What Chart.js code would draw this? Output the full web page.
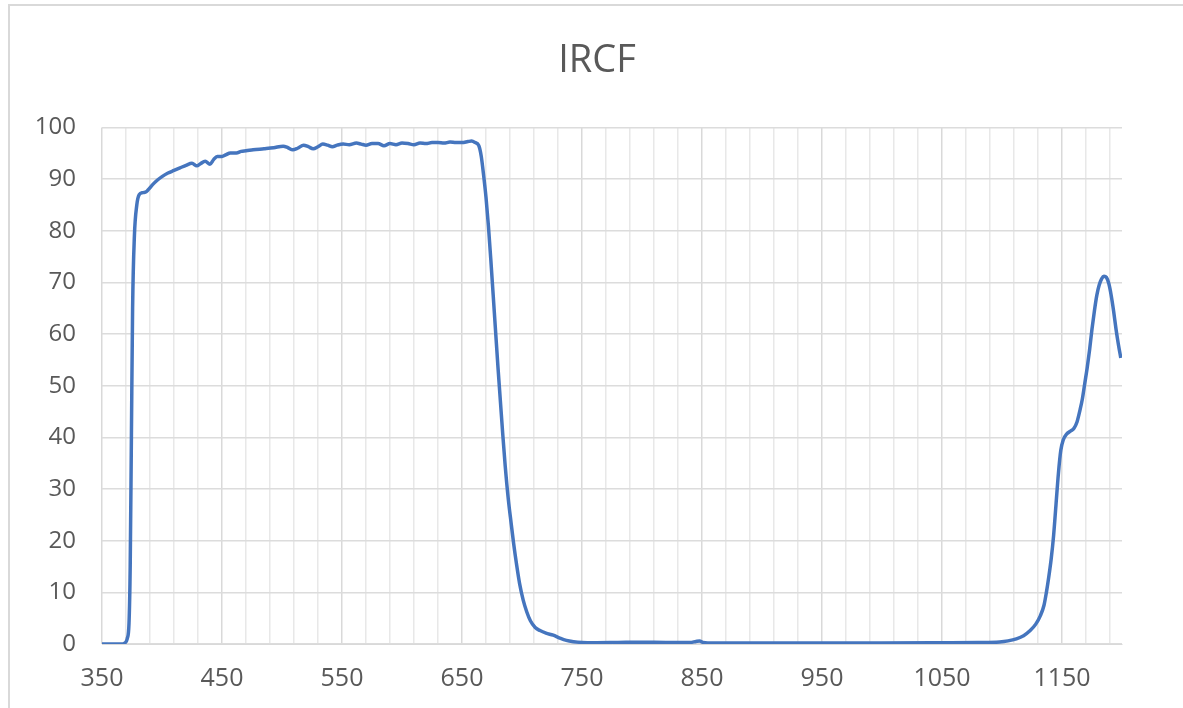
<!DOCTYPE html>
<html>
<head>
<meta charset="utf-8">
<script src="https://cdn.jsdelivr.net/npm/chart.js@4/dist/chart.umd.min.js"></script>
<style>
  html, body { margin: 0; padding: 0; background: #fff; }
  #wrap { position: relative; width: 1183px; height: 708px; }
</style>
</head>
<body>
<div id="wrap"><canvas id="ircfChart"></canvas></div>
<script>
// 波長 (nm) と透過率 (%) - 画像から読み取った値
const wavelength = [
  350, 360, 366, 369, 371, 372.5, 373.5, 374.5, 375.5, 377, 379, 381, 384, 387, 389, 392, 396,
  400, 405, 410, 415, 420, 425, 429, 432, 436, 440, 443, 446, 450, 453, 457, 462, 466, 470, 476,
  485, 493, 501, 505, 509, 513, 518, 522, 526, 530, 534, 538, 542, 546, 551, 556, 562, 566, 570,
  575, 580, 585, 590, 595, 600, 605, 610, 615, 620, 625, 630, 635, 640, 645, 650, 655, 658, 661,
  664, 666, 668, 670, 672, 674, 676, 678, 680, 682, 684, 686, 688.6, 691, 693, 695.6, 698, 701,
  704, 707, 711, 715, 720, 726, 731, 737, 743, 750, 760, 780, 800, 820, 840, 845, 848, 851, 860,
  900, 950, 1000, 1050, 1080, 1098, 1105, 1112, 1118, 1123, 1128, 1132, 1135, 1137, 1139, 1141,
  1143, 1145, 1147, 1149, 1151, 1154, 1157, 1160, 1162.5, 1165, 1167, 1169, 1171, 1173, 1175,
  1177, 1179, 1181, 1183, 1185, 1187, 1189, 1191, 1193, 1195, 1197, 1199
];
const transmittance = [
  0, 0, 0, 0.2, 1, 4, 15, 40, 65, 79, 85, 87, 87.4, 87.6, 88.1, 88.9, 89.8,
  90.5, 91.2, 91.7, 92.2, 92.7, 93.1, 92.6, 93.0, 93.5, 92.9, 93.8, 94.4, 94.4, 94.7, 95.1, 95.1, 95.4, 95.5, 95.7,
  95.9, 96.1, 96.4, 96.1, 95.7, 96.0, 96.6, 96.3, 95.9, 96.3, 96.8, 96.6, 96.3, 96.6, 96.8, 96.7, 97.0, 96.8, 96.6,
  96.9, 96.9, 96.5, 96.9, 96.7, 97.0, 96.9, 96.7, 97.0, 96.9, 97.1, 97.1, 97.0, 97.2, 97.1, 97.1, 97.3, 97.4, 97.1,
  96.5, 94.5, 90.8, 86.5, 81, 74.5, 67.5, 60.5, 53.5, 47, 40.5, 34.5, 28, 23.3, 19.5, 15.2, 11.7, 8.5,
  6.2, 4.5, 3.2, 2.6, 2.1, 1.7, 1.2, 0.7, 0.45, 0.3, 0.25, 0.3, 0.35, 0.3, 0.3, 0.5, 0.6, 0.3, 0.2,
  0.2, 0.2, 0.2, 0.25, 0.3, 0.4, 0.6, 1.0, 1.6, 2.5, 3.8, 5.5, 7.5, 10, 13, 16.5,
  21, 27, 33, 37.5, 39.5, 40.7, 41.2, 41.8, 43, 45.3, 47.5, 50.5, 53.5, 57, 61,
  64.5, 67.5, 69.5, 70.7, 71.2, 71.0, 69.8, 67.5, 64.5, 61, 58, 55.4
];
const xTickLabels = [350, 450, 550, 650, 750, 850, 950, 1050, 1150];
const yTickLabels = [0, 10, 20, 30, 40, 50, 60, 70, 80, 90, 100];

const points = wavelength.map((w, i) => ({ x: w, y: transmittance[i] }));

// 外枠 (Excelのグラフエリア枠線)
const frameBorder = {
  id: 'frameBorder',
  beforeDraw(chart) {
    const ctx = chart.ctx;
    ctx.save();
    ctx.strokeStyle = '#d9d9d9';
    ctx.lineWidth = 2;
    ctx.beginPath();
    ctx.moveTo(9, chart.height);
    ctx.lineTo(9, 5);
    ctx.lineTo(chart.width, 5);
    ctx.stroke();
    ctx.restore();
  }
};

// タイトルを少し右へ (元画像ではプロット領域寄りの中央)
const shiftTitle = {
  id: 'shiftTitle',
  afterLayout(chart) {
    const t = chart.titleBlock;
    if (t) { t.left += 36; t.right += 36; }
  }
};

new Chart(document.getElementById('ircfChart'), {
  type: 'line',
  data: {
    datasets: [{
      label: 'IRCF',
      data: points,
      borderColor: '#4575be',
      borderWidth: 3.5,
      pointRadius: 0,
      cubicInterpolationMode: 'monotone',
      fill: false
    }]
  },
  options: {
    responsive: true,
    maintainAspectRatio: false,
    animation: false,
    layout: { padding: { left: 0, right: 61, top: 0, bottom: 0 } },
    plugins: {
      legend: { display: false },
      tooltip: { enabled: false },
      title: {
        display: true,
        text: 'IRCF',
        color: '#595959',
        font: { family: '"Open Sans", sans-serif', size: 38, weight: '400' },
        padding: { top: 38, bottom: 44 }
      }
    },
    scales: {
      x: {
        type: 'linear',
        min: 350,
        max: 1200,
        afterBuildTicks(scale) {
          const ticks = [];
          for (let v = 350; v < 1200; v += 20) ticks.push({ value: v });
          scale.ticks = ticks;
        },
        afterFit(scale) { scale.height = 64; },
        border: { display: true, color: '#d9d9d9', width: 1 },
        grid: {
          drawTicks: false,
          color: (c) => (xTickLabels.includes(c.tick && c.tick.value) ? '#d9d9d9' : '#e8e8e8'),
          lineWidth: 1.5
        },
        ticks: {
          autoSkip: false,
          maxRotation: 0,
          padding: 20,
          color: '#595959',
          font: { family: '"Open Sans", sans-serif', size: 25 },
          callback: (v) => (xTickLabels.includes(v) ? String(v) : '')
        }
      },
      y: {
        min: 0,
        max: 100,
        afterBuildTicks(scale) {
          scale.ticks = yTickLabels.map((v) => ({ value: v }));
        },
        afterFit(scale) { scale.width = 102; },
        border: { display: false },
        grid: { drawTicks: false, color: '#dcdcdc', lineWidth: 1.5 },
        ticks: {
          padding: 26,
          color: '#595959',
          font: { family: '"Open Sans", sans-serif', size: 24 }
        }
      }
    }
  },
  plugins: [frameBorder, shiftTitle]
});
</script>
</body>
</html>
